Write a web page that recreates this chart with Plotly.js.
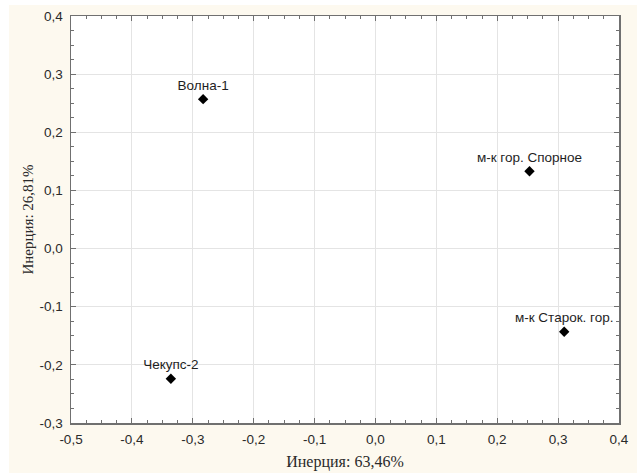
<!DOCTYPE html>
<html>
<head>
<meta charset="utf-8">
<script src="https://cdn.plot.ly/plotly-3.0.1.min.js"></script>
<style>html,body{margin:0;padding:0;background:#fff;}#chart{width:637px;height:473px;}</style>
</head>
<body>
<div id="chart"></div>
<script>
const labels = ["Волна-1", "Чекупс-2", "м-к гор. Спорное", "м-к Старок. гор."];
const dim1 = [-0.283, -0.336, 0.253, 0.310];
const dim2 = [0.257, -0.224, 0.133, -0.143];
const xTitle = "Инерция: 63,46%";
const yTitle = "Инерция: 26,81%";
const xTickVals = [-0.5, -0.4, -0.3, -0.2, -0.1, 0.0, 0.1, 0.2, 0.3, 0.4];
const yTickVals = [-0.3, -0.2, -0.1, 0.0, 0.1, 0.2, 0.3, 0.4];
const fmt = v => v.toFixed(1).replace('.', ',');

const W = 637, H = 473, mL = 71, mR = 18, mT = 16, mB = 50;
const pw = W - mL - mR, ph = H - mT - mB;
const px = v => (v - mL) / pw;
const py = v => 1 - (v - mT) / ph;

const axisCommon = {
  showline: true, linecolor: '#707070', linewidth: 1.5, mirror: 'ticks',
  ticks: 'inside', ticklen: 5, tickcolor: '#707070', tickwidth: 1,
  showgrid: true, gridcolor: '#e4e4e4', gridwidth: 1, zeroline: false,
  tickfont: {family: 'Liberation Sans, Arial, sans-serif', size: 13.5, color: '#2a2a2a'},
  minor: {dtick: 0.025, ticks: 'inside', ticklen: 3, tickcolor: '#707070', showgrid: false}
};

const trace = {
  type: 'scatter', mode: 'markers+text',
  x: dim1, y: dim2, text: labels, textposition: 'top center',
  textfont: {family: 'Liberation Sans, Arial, sans-serif', size: 13.5, color: '#1e1e1e'},
  marker: {symbol: 'diamond', size: 8, color: '#000'},
  cliponaxis: false, hoverinfo: 'none'
};

const layout = {
  width: W, height: H,
  margin: {l: mL, r: mR, t: mT, b: mB},
  paper_bgcolor: '#fdf9ef', plot_bgcolor: '#ffffff',
  showlegend: false,
  xaxis: Object.assign({}, axisCommon, {
    range: [-0.5, 0.4], tickmode: 'array', tickvals: xTickVals, ticktext: xTickVals.map(fmt),
    ticklabelstandoff: 3,
    title: {text: xTitle, standoff: 10, font: {family: 'Liberation Serif, Times New Roman, serif', size: 16, color: '#2a2a2a'}}
  }),
  yaxis: Object.assign({}, axisCommon, {
    range: [-0.3, 0.4], tickmode: 'array', tickvals: yTickVals, ticktext: yTickVals.map(fmt),
    ticklabelstandoff: 4,
    title: {text: yTitle, standoff: 2, font: {family: 'Liberation Serif, Times New Roman, serif', size: 15, color: '#2a2a2a'}}
  }),
  shapes: [
    {type: 'rect', xref: 'paper', yref: 'paper', x0: px(0), x1: px(9), y0: py(H), y1: py(0), fillcolor: '#ffffff', line: {width: 0}, layer: 'below'},
    {type: 'rect', xref: 'paper', yref: 'paper', x0: px(0), x1: px(W), y0: py(5), y1: py(0), fillcolor: '#ffffff', line: {width: 0}, layer: 'below'}
  ]
};

Plotly.newPlot('chart', [trace], layout, {displayModeBar: false, staticPlot: true});
</script>
</body>
</html>
